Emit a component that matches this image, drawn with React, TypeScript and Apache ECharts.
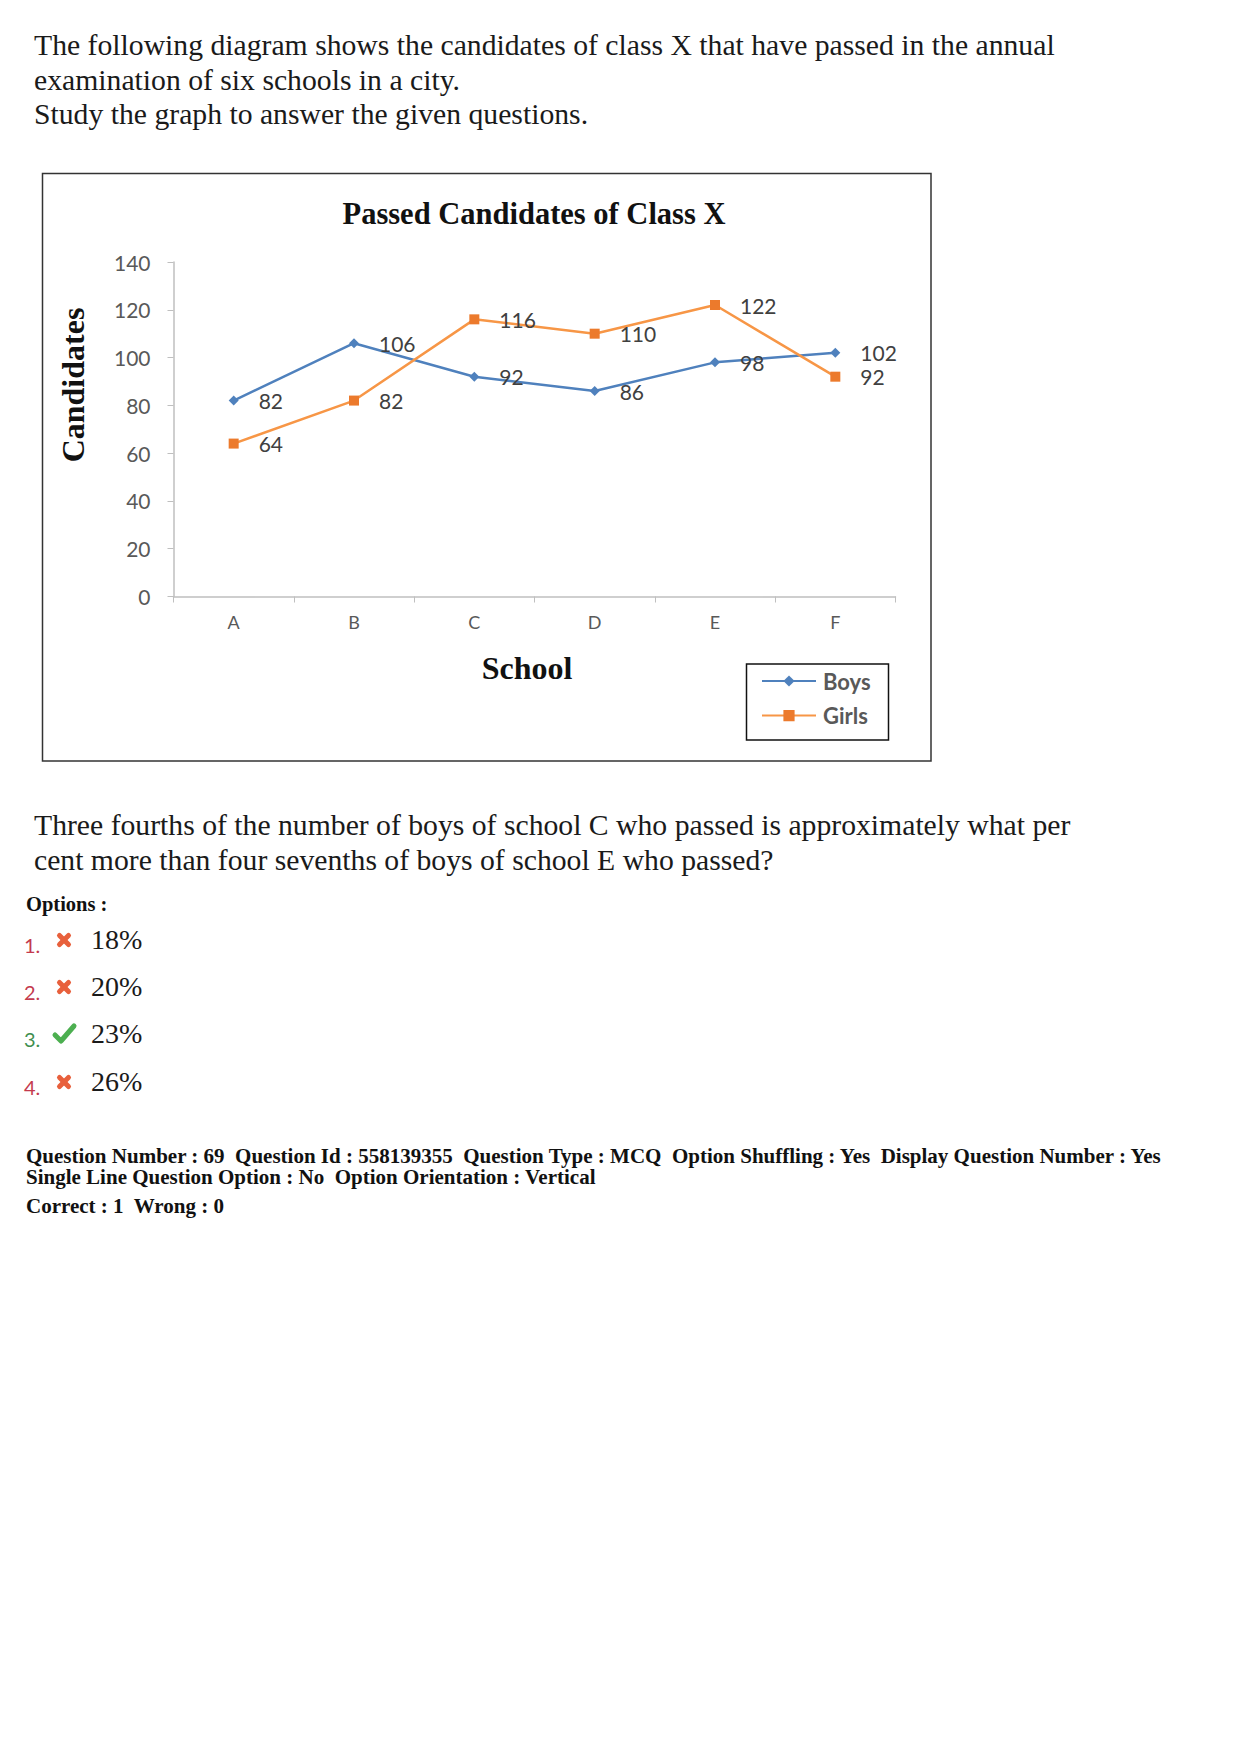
import React, { useEffect, useRef } from "react";
import * as echarts from "echarts";

// Passed candidates of class X per school
const schools = ["A", "B", "C", "D", "E", "F"];
const boys = [82, 106, 92, 86, 98, 102];
const girls = [64, 82, 116, 110, 122, 92];

const yMin = 0;
const yMax = 140;
const yStep = 20;

const introLines = [
  "The following diagram shows the candidates of class X that have passed in the annual",
  "examination of six schools in a city.",
  "Study the graph to answer the given questions.",
];
const questionLines = [
  "Three fourths of the number of boys of school C who passed is approximately what per",
  "cent more than four sevenths of boys of school E who passed?",
];
const optionTexts = ["18%", "20%", "23%", "26%"];
const optionCorrect = [false, false, true, false];
const footerLines = [
  "Question Number : 69  Question Id : 558139355  Question Type : MCQ  Option Shuffling : Yes  Display Question Number : Yes",
  "Single Line Question Option : No  Option Orientation : Vertical",
  "Correct : 1  Wrong : 0",
];

const SERIF = '"Liberation Serif", "Times New Roman", serif';
const SANS = 'Lato, "Open Sans", sans-serif';
const BLUE = "#4f81bd";
const ORANGE = "#f79646";
const ORANGE_MARK = "#ec7a2c";

function textEl(text: string, x: number, y: number, font: string, fill: string, align = "left", extra: any = {}) {
  return {
    type: "text",
    x,
    y,
    silent: true,
    ...extra,
    style: { text, font, fill, textAlign: align, textVerticalAlign: "middle" },
  };
}

function crossIcon(cx: number, cy: number) {
  const r = 4.5;
  const st = { stroke: "#e8603c", lineWidth: 5, lineCap: "round" };
  return {
    type: "group",
    silent: true,
    children: [
      { type: "line", shape: { x1: cx - r, y1: cy - r, x2: cx + r, y2: cy + r }, style: st },
      { type: "line", shape: { x1: cx - r, y1: cy + r, x2: cx + r, y2: cy - r }, style: st },
    ],
  };
}

function checkIcon(cx: number, cy: number) {
  return {
    type: "polyline",
    silent: true,
    shape: { points: [[cx - 9, cy + 1], [cx - 3, cy + 7], [cx + 10, cy - 8]] },
    style: { stroke: "#4caf50", lineWidth: 5, lineCap: "round", lineJoin: "round", fill: "none" },
  };
}

export default function App() {
  const ref = useRef<HTMLDivElement>(null);

  useEffect(() => {
    if (!ref.current) return;
    const chart = echarts.init(ref.current, null, { renderer: "svg" });

    const graphics: any[] = [];

    // Intro paragraph
    const introY = [45, 79.5, 114];
    introLines.forEach((t, i) => graphics.push(textEl(t, 34, introY[i], `29.7px ${SERIF}`, "#1a1a1a")));

    // Chart frame
    graphics.push({
      type: "rect",
      silent: true,
      shape: { x: 42.5, y: 173.5, width: 888.5, height: 587.5 },
      style: { fill: "none", stroke: "#333", lineWidth: 1.5 },
    });
    graphics.push(textEl("Passed Candidates of Class X", 534, 214, `bold 30.5px ${SERIF}`, "#111", "center"));
    graphics.push(textEl("School", 527, 668, `bold 32px ${SERIF}`, "#111", "center"));
    graphics.push(
      textEl("Candidates", 73, 385, `bold 32px ${SERIF}`, "#111", "center", { rotation: Math.PI / 2 })
    );

    // Legend frame
    graphics.push({
      type: "rect",
      silent: true,
      shape: { x: 746.5, y: 664, width: 142, height: 76 },
      style: { fill: "none", stroke: "#111", lineWidth: 1.5 },
    });

    // Question
    const qY = [825, 859.5];
    questionLines.forEach((t, i) => graphics.push(textEl(t, 34, qY[i], `29.7px ${SERIF}`, "#1a1a1a")));

    graphics.push(textEl("Options :", 26, 904, `bold 20.5px ${SERIF}`, "#111"));
    const optY = [940, 987, 1034, 1082];
    optionTexts.forEach((t, i) => {
      const y = optY[i];
      graphics.push(
        textEl(`${i + 1}.`, 24, y + 5, `20px ${SANS}`, optionCorrect[i] ? "#3f8f4f" : "#c43a4e")
      );
      graphics.push(optionCorrect[i] ? checkIcon(64, y) : crossIcon(64, y));
      graphics.push(textEl(t, 91, y - 1, `28px ${SERIF}`, "#1a1a1a"));
    });

    // Footer metadata, tightly set lines
    const footY = [1156.5, 1177.5, 1206];
    footerLines.forEach((t, i) =>
      graphics.push(textEl(t, 26, footY[i], `bold 20.5px ${SERIF}`, "#111", "left", { scaleX: 1.025 }))
    );

    const labelStyle = {
      show: true,
      position: "right",
      distance: 20,
      color: "#404040",
      fontFamily: SANS,
      fontSize: 21,
    };

    chart.setOption({
      animation: false,
      backgroundColor: "#ffffff",
      grid: { left: 173.5, top: 262, width: 722, height: 334.5, containLabel: false },
      legend: {
        left: 761,
        top: 670,
        padding: 0,
        orient: "vertical",
        itemWidth: 54,
        itemHeight: 14,
        itemGap: 12.6,
        textStyle: {
          color: "#595959",
          fontFamily: SANS,
          fontSize: 22,
          lineHeight: 21,
          fontWeight: "bold",
          padding: [0, 0, 0, 2],
        },
        data: ["Boys", "Girls"],
      },
      xAxis: {
        type: "category",
        data: schools,
        boundaryGap: true,
        axisLine: { lineStyle: { color: "#bfbfbf", width: 1.5 } },
        axisTick: { show: true, length: 6, lineStyle: { color: "#bfbfbf" } },
        axisLabel: { color: "#595959", fontFamily: SANS, fontSize: 18, margin: 16 },
        splitLine: { show: false },
      },
      yAxis: {
        type: "value",
        min: yMin,
        max: yMax,
        interval: yStep,
        axisLine: { show: true, lineStyle: { color: "#bfbfbf", width: 1.5 } },
        axisTick: { show: true, length: 6, lineStyle: { color: "#bfbfbf" } },
        axisLabel: { color: "#595959", fontFamily: SANS, fontSize: 21, margin: 23 },
        splitLine: { show: false },
      },
      series: [
        {
          name: "Boys",
          type: "line",
          data: boys,
          symbol: "diamond",
          symbolSize: 10,
          lineStyle: { color: BLUE, width: 2.5 },
          itemStyle: { color: BLUE },
          label: labelStyle,
        },
        {
          name: "Girls",
          type: "line",
          data: girls,
          symbol: "rect",
          symbolSize: 10,
          lineStyle: { color: ORANGE, width: 2.5 },
          itemStyle: { color: ORANGE_MARK },
          label: labelStyle,
        },
      ],
      graphic: graphics,
    });

    return () => chart.dispose();
  }, []);

  return (
    <div
      ref={ref}
      style={{ position: "absolute", left: 0, top: 0, width: 1240, height: 1755, background: "#fff" }}
    />
  );
}
